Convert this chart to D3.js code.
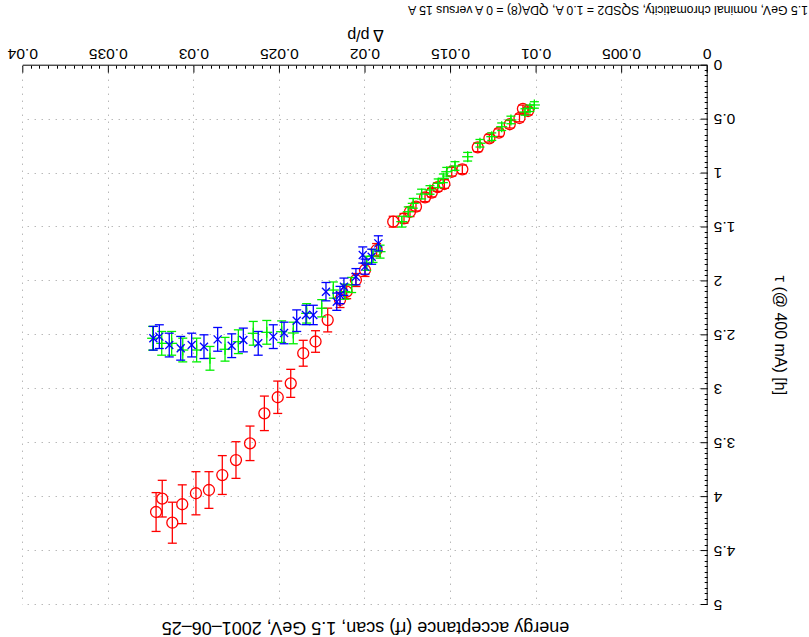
<!DOCTYPE html>
<html>
<head>
<meta charset="utf-8">
<script src="https://cdn.jsdelivr.net/npm/d3@7"></script>
<style>
  html, body { margin: 0; padding: 0; background: #fff; }
  svg { display: block; }
  text { font-family: "Liberation Sans", Arial, Helvetica, sans-serif; fill: #000; }
</style>
</head>
<body>
<svg id="chart" width="809" height="637"></svg>
<script>
// Energy acceptance (rf) scan: beam lifetime versus momentum deviation.
// Three measurement runs, each with vertical error bars.

// --- red circles ---
const redDp  = [0.0105, 0.0108, 0.0110, 0.01157, 0.0122, 0.01276, 0.01344, 0.01434, 0.01496, 0.01539,
                0.01578, 0.01613, 0.01652, 0.01705, 0.0174, 0.01775, 0.01838, 0.01935, 0.02003, 0.02056,
                0.0211, 0.02149, 0.02221, 0.02292, 0.02364, 0.02437, 0.02513, 0.02591, 0.02675, 0.02757,
                0.02837, 0.02915, 0.02991, 0.03071, 0.03129, 0.03188, 0.03224];
const redTau = [0.42, 0.40, 0.485, 0.543, 0.621, 0.673, 0.757, 0.961, 0.983, 1.097,
                1.125, 1.177, 1.22, 1.307, 1.354, 1.415, 1.446, 1.709, 1.894, 1.987,
                2.095, 2.172, 2.358, 2.557, 2.666, 2.945, 3.074, 3.223, 3.501, 3.656,
                3.795, 3.934, 3.964, 4.066, 4.237, 4.014, 4.138];
const redErr = [0.035, 0.035, 0.035, 0.035, 0.035, 0.035, 0.04, 0.04, 0.04, 0.04,
                0.04, 0.04, 0.04, 0.04, 0.045, 0.045, 0.05, 0.06, 0.06, 0.06,
                0.065, 0.07, 0.11, 0.10, 0.12, 0.13, 0.15, 0.16, 0.16, 0.17,
                0.18, 0.17, 0.20, 0.18, 0.19, 0.17, 0.18];

// --- green pluses ---
const greenDp  = [0.01013, 0.01039, 0.01068, 0.0115, 0.01204, 0.01262, 0.01331, 0.01403, 0.01477, 0.01525,
                  0.01545, 0.01575, 0.01623, 0.01672, 0.01721, 0.0175, 0.01788, 0.01915, 0.01956, 0.01993,
                  0.02081, 0.0212, 0.02188, 0.02256, 0.02344, 0.02422, 0.0249, 0.02577, 0.02656, 0.02743,
                  0.02821, 0.02909, 0.02987, 0.03068, 0.03133, 0.03191, 0.03244];
const greenTau = [0.364, 0.395, 0.429, 0.503, 0.566, 0.658, 0.719, 0.844, 0.93, 0.983,
                  1.044, 1.09, 1.152, 1.19, 1.276, 1.354, 1.446, 1.724, 1.764, 1.832,
                  2.033, 2.095, 2.08, 2.249, 2.296, 2.478, 2.466, 2.472, 2.481, 2.559,
                  2.629, 2.713, 2.636, 2.636, 2.574, 2.574, 2.527];
const greenErr = [0.03, 0.03, 0.03, 0.035, 0.035, 0.035, 0.035, 0.04, 0.04, 0.04,
                  0.04, 0.04, 0.04, 0.045, 0.045, 0.045, 0.05, 0.06, 0.06, 0.065,
                  0.07, 0.07, 0.075, 0.08, 0.09, 0.1, 0.1, 0.11, 0.11, 0.11,
                  0.11, 0.11, 0.11, 0.11, 0.11, 0.11, 0.11];

// --- blue crosses ---
const blueDp  = [0.01925, 0.01964, 0.02003, 0.02016, 0.02056, 0.02126, 0.02149, 0.02168, 0.02231, 0.02305,
                 0.02348, 0.02402, 0.02476, 0.02539, 0.02627, 0.02714, 0.02782, 0.02864, 0.02944, 0.03016,
                 0.0308, 0.03147, 0.03205, 0.0324];
const blueTau = [1.647, 1.771, 1.863, 1.755, 1.956, 2.049, 2.126, 2.188, 2.095, 2.311,
                 2.311, 2.364, 2.478, 2.512, 2.574, 2.543, 2.596, 2.537, 2.605, 2.59,
                 2.62, 2.59, 2.512, 2.527];
const blueErr = [0.07, 0.07, 0.07, 0.075, 0.075, 0.08, 0.08, 0.08, 0.085, 0.09,
                 0.09, 0.1, 0.1, 0.11, 0.11, 0.11, 0.11, 0.11, 0.11, 0.11,
                 0.11, 0.11, 0.11, 0.11];

const xTicks = [0, 0.005, 0.01, 0.015, 0.02, 0.025, 0.03, 0.035, 0.04];
const xTickLabels = ["0", "0.005", "0.01", "0.015", "0.02", "0.025", "0.03", "0.035", "0.04"];
const yTicks = [0, 0.5, 1, 1.5, 2, 2.5, 3, 3.5, 4, 4.5, 5];
const yTickLabels = ["0", "0.5", "1", "1.5", "2", "2.5", "3", "3.5", "4", "4.5", "5"];

const titleText = "energy acceptance (rf) scan, 1.5 GeV, 2001\u201306\u201325";
const xLabelText = "\u0394 p/p";
const yLabelText = "\u03c4 (@ 400 mA) [h]";
const noteText = "1.5 GeV, nominal chromaticity, SQSD2 = 1.0 A, QDA(8) = 0 A versus 15 A";

const W = 809, H = 637;
const plot = { left: 101.3, right: 785.7, top: 32, bottom: 571.3 };

const svg = d3.select("#chart");
svg.append("rect").attr("width", W).attr("height", H).attr("fill", "#fff");

// The whole page is printed turned half a circle.
const g = svg.append("g").attr("transform", `rotate(180 ${W / 2} ${H / 2})`);

const x = d3.scaleLinear().domain([0, 0.04]).range([plot.left, plot.right]);
const y = d3.scaleLinear().domain([0, 5]).range([plot.bottom, plot.top]);

// dotted grid
const grid = g.append("g").attr("stroke", "#999").attr("stroke-width", 1)
  .attr("stroke-dasharray", "1,6");
grid.selectAll(".gx").data(xTicks.slice(1)).join("line")
  .attr("x1", d => Math.round(x(d)) + 0.5).attr("x2", d => Math.round(x(d)) + 0.5)
  .attr("y1", plot.bottom).attr("y2", plot.top);
grid.selectAll(".gy").data(yTicks.slice(1)).join("line")
  .attr("y1", d => Math.round(y(d)) + 0.5).attr("y2", d => Math.round(y(d)) + 0.5)
  .attr("x1", plot.left).attr("x2", plot.right);

// minor ticks, ten per major interval
const minorX = d3.range(0, 80).map(i => i * 0.0005).filter((d, i) => i % 10 !== 0);
const minorY = d3.range(0, 100).map(i => i * 0.05).filter((d, i) => i % 10 !== 0);
const minor = g.append("g").attr("stroke", "#000").attr("stroke-width", 1);
minor.selectAll(".mx").data(minorX).join("line")
  .attr("x1", d => Math.round(x(d)) + 0.5).attr("x2", d => Math.round(x(d)) + 0.5)
  .attr("y1", plot.bottom).attr("y2", plot.bottom - 3);
minor.selectAll(".my").data(minorY).join("line")
  .attr("y1", d => Math.round(y(d)) + 0.5).attr("y2", d => Math.round(y(d)) + 0.5)
  .attr("x1", plot.left).attr("x2", plot.left + 3);

// axes (ticks pointing inward)
const xAxis = d3.axisBottom(x).tickValues(xTicks)
  .tickFormat((d, i) => xTickLabels[i]).tickSizeInner(-7).tickSizeOuter(0).tickPadding(6);
const yAxis = d3.axisLeft(y).tickValues(yTicks)
  .tickFormat((d, i) => yTickLabels[i]).tickSizeInner(-7).tickSizeOuter(0).tickPadding(6);

const gx = g.append("g").attr("transform", `translate(0,${plot.bottom})`).call(xAxis);
const gy = g.append("g").attr("transform", `translate(${plot.left},0)`).call(yAxis);
[gx, gy].forEach(a => {
  a.select(".domain").attr("stroke", "#000").attr("stroke-width", 1);
  a.selectAll(".tick line").attr("stroke", "#000");
  a.selectAll(".tick text").attr("font-size", 15.5)
    .attr("font-family", "'Liberation Sans', Arial, sans-serif").attr("fill", "#000");
});

// series with error bars
function drawSeries(dp, tau, err, color, marker) {
  const data = dp.map((d, i) => ({ dp: d, tau: tau[i], err: err[i] }));
  const s = g.append("g").attr("stroke", color).attr("fill", "none").attr("stroke-width", 1.3);
  const cap = 4.5;
  data.forEach(d => {
    const cx = x(d.dp), y0 = y(d.tau - d.err), y1 = y(d.tau + d.err);
    s.append("line").attr("x1", cx).attr("x2", cx).attr("y1", y0).attr("y2", y1);
    s.append("line").attr("x1", cx - cap).attr("x2", cx + cap).attr("y1", y0).attr("y2", y0);
    s.append("line").attr("x1", cx - cap).attr("x2", cx + cap).attr("y1", y1).attr("y2", y1);
    const cy = y(d.tau);
    if (marker === "o") {
      s.append("circle").attr("cx", cx).attr("cy", cy).attr("r", 5.5);
    } else if (marker === "+") {
      s.append("line").attr("x1", cx - 5.5).attr("x2", cx + 5.5).attr("y1", cy).attr("y2", cy);
      s.append("line").attr("x1", cx).attr("x2", cx).attr("y1", cy - 5.5).attr("y2", cy + 5.5);
    } else {
      s.append("line").attr("x1", cx - 4).attr("x2", cx + 4).attr("y1", cy - 4).attr("y2", cy + 4);
      s.append("line").attr("x1", cx - 4).attr("x2", cx + 4).attr("y1", cy + 4).attr("y2", cy - 4);
    }
  });
}
drawSeries(redDp, redTau, redErr, "#ff0000", "o");
drawSeries(greenDp, greenTau, greenErr, "#00f000", "+");
drawSeries(blueDp, blueTau, blueErr, "#0000ff", "x");

// labels
g.append("text").attr("x", (plot.left + plot.right) / 2).attr("y", 15)
  .attr("text-anchor", "middle").attr("font-size", 18).text(titleText);
g.append("text").attr("x", (plot.left + plot.right) / 2).attr("y", 607)
  .attr("text-anchor", "middle").attr("font-size", 16).text(xLabelText);
g.append("text").attr("transform", `translate(34,${(plot.top + plot.bottom) / 2}) rotate(-90)`)
  .attr("text-anchor", "middle").attr("font-size", 16).text(yLabelText);
g.append("text").attr("x", 1).attr("y", 631).attr("font-size", 12.3).text(noteText);
</script>
</body>
</html>
